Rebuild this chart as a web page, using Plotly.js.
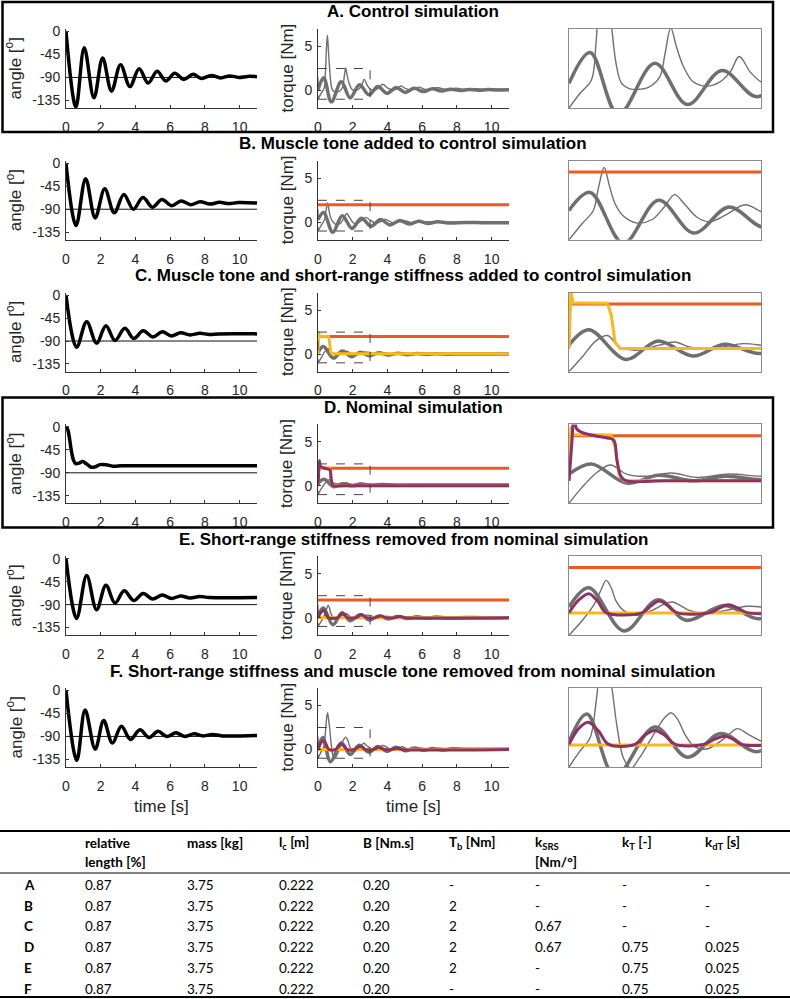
<!DOCTYPE html>
<html><head><meta charset="utf-8">
<script src="https://cdn.plot.ly/plotly-3.0.1.min.js"></script>
<style>html,body{margin:0;padding:0;background:#fff}#chart{width:790px;height:999px}</style>
</head><body><div id="chart"></div>
<script>
// ---------------- DATA ----------------
const rowTitles = [
  "A. Control simulation",
  "B. Muscle tone added to control simulation",
  "C. Muscle tone and short-range stiffness added to control simulation",
  "D. Nominal simulation",
  "E. Short-range stiffness removed from nominal simulation",
  "F. Short-range stiffness and muscle tone removed from nominal simulation"
];
const angleTickVals = [-135, -90, -45, 0];
const angleTickText = ["-135", "-90", "-45", "0"];
const torqueTickVals = [0, 5];
const timeTickVals = [0, 2, 4, 6, 8, 10];
const timeRange = [0, 11];
const angleRange = [-150, 5];
const torqueRange = [-2, 7];
const refAngle = -90;
const zoomTime = [0, 3];
const zoomTorque = [-1, 2.5];

// angle [deg]
const angA_t = [0,0.57,1.05,1.61,2.11,2.62,3.14,3.68,4.21,4.73,5.25,5.75,6.26,6.78,7.32,7.8,8.37,8.9,9.42,9.95,10.47,11];
const angA_v = [0,-148,-32,-130,-52,-117,-65,-108,-73,-101,-78,-97,-82,-94,-84,-92,-86,-91,-87,-90,-88,-88.5];
const angB_t = [0,0.58,1.13,1.68,2.23,2.78,3.33,3.88,4.43,4.98,5.53,6.08,6.63,7.18,7.73,8.28,8.83,9.38,9.93,11];
const angB_v = [0,-122,-30,-107,-50,-97,-61,-90,-67,-86,-71,-83,-74,-81,-75.5,-80,-76.5,-79,-77,-78];
const angC_t = [0,0.61,1.19,1.76,2.3,2.82,3.39,3.9,4.44,5.0,5.55,6.07,6.6,7.15,7.7,8.25,8.8,11];
const angC_v = [0,-102,-52,-94,-60,-89,-65,-85,-70,-82,-72,-80,-74,-78,-75,-77,-76,-76];
const angD_t = [0,0.1,0.2,0.3,0.42,0.56,0.75,0.95,1.2,1.45,1.7,1.95,2.3,2.7,3.2,3.7,4.5,11];
const angD_v = [0,-5,-22,-45,-64,-72,-71,-68,-73,-79,-78,-74,-74,-77,-76,-76,-76,-76];
const angE_t = [0,0.61,1.19,1.76,2.3,2.82,3.35,3.9,4.44,4.98,5.55,6.07,6.6,7.15,7.7,8.25,11];
const angE_v = [0,-117,-33,-100,-52,-87,-63,-82,-68,-79,-71,-78,-73,-77,-74,-76,-76];
const angF_t = [0,0.62,1.1,1.68,2.17,2.67,3.19,3.71,4.26,4.78,5.3,5.8,6.33,6.85,7.38,7.9,8.43,9,11];
const angF_v = [0,-137,-38,-115,-59,-103,-70,-96,-77,-92,-80,-90,-83,-90,-85,-89,-86,-89,-88];

// torque [Nm] : thick gray
const thkA_t = [0,0.33,0.77,1.34,1.85,2.39,2.93,3.45,3.97,4.5,5.02,5.55,6.07,6.6,7.1,7.65,8.2,8.7,9.25,9.8,10.3,11];
const thkA_v = [0.09,1.46,-1.3,0.98,-0.85,0.66,-0.5,0.45,-0.33,0.33,-0.22,0.25,-0.13,0.2,-0.07,0.15,-0.02,0.12,0.02,0.1,0.04,0.07];
const thkB_t = [0,0.33,0.85,1.4,1.95,2.5,3.05,3.6,4.15,4.7,5.25,5.8,6.35,6.9,7.5,8.5,9.5,11];
const thkB_v = [0.3,1.1,-1.15,0.75,-0.7,0.45,-0.45,0.3,-0.3,0.2,-0.2,0.12,-0.13,0.07,-0.08,-0.02,-0.05,-0.05];
const thkC_t = [0,0.31,0.89,1.39,1.94,2.43,2.97,3.5,4.05,4.6,5.15,5.7,6.25,6.8,7.5,8.5,9.5,11];
const thkC_v = [0.17,0.85,-0.46,0.36,-0.31,0.21,-0.2,0.15,-0.12,0.1,-0.08,0.06,-0.05,0.04,-0.02,0.01,0,0];
const thkD_t = [0,0.35,0.9,1.4,1.95,2.45,3.0,3.6,4.5,6,8,11];
const thkD_v = [0.3,0.75,-0.1,0.25,0.0,0.2,0.05,0.15,0.08,0.1,0.1,0.1];
const thkE_t = [0,0.31,0.86,1.39,1.83,2.43,2.95,3.5,4.05,4.6,5.15,5.7,6.25,6.8,7.5,8.5,9.5,11];
const thkE_v = [0.25,1.1,-0.81,0.57,-0.34,0.32,-0.27,0.2,-0.15,0.14,-0.1,0.1,-0.06,0.06,-0.03,0.02,0,0];
const thkF_t = [0,0.28,0.72,1.34,1.85,2.37,2.92,3.45,3.97,4.5,5.03,5.55,6.08,6.6,7.13,7.7,8.5,9.5,11];
const thkF_v = [0.12,1.35,-1.4,0.77,-0.57,0.48,-0.32,0.33,-0.22,0.24,-0.15,0.17,-0.1,0.12,-0.06,0.07,0.02,0.03,0.03];

// torque [Nm] : thin gray
const thnA_t = [0,0.17,0.35,0.42,0.48,0.54,0.6,0.67,0.74,0.82,0.95,1.06,1.24,1.42,1.5,1.59,1.68,1.79,1.94,2.15,2.36,2.52,2.66,2.83,3.0,3.2,3.45,3.72,4.0,4.25,4.5,4.78,5.05,5.3,5.55,5.83,6.1,6.35,6.9,7.4,7.95,8.5,9.0,9.5,10,10.5,11];
const thnA_v = [-1.0,-0.36,0.24,1.8,4.5,6.3,4.6,2.5,0.9,0.1,-0.15,-0.18,-0.09,0.39,1.4,2.55,1.7,0.83,0.16,-0.03,0.16,0.6,1.28,0.6,0.16,0.02,0.2,0.7,0.3,0.05,0.15,0.5,0.2,0.07,0.15,0.38,0.15,0.1,0.3,0.1,0.25,0.12,0.2,0.12,0.17,0.13,0.15];
const thnB_t = [0,0.2,0.38,0.46,0.55,0.63,0.72,0.85,1.05,1.3,1.5,1.65,1.8,2.0,2.2,2.45,2.75,3.0,3.3,3.6,3.85,4.3,4.6,4.9,5.4,6,7,8,9,10,11];
const thnB_v = [-1,-0.3,0.3,1.3,2.2,1.4,0.6,0.05,-0.25,-0.1,0.5,1.0,0.6,0.0,-0.2,0.1,0.55,0.25,-0.1,0.05,0.35,-0.05,0.0,0.2,-0.05,0.05,0.0,0.0,-0.02,-0.02,-0.02];
const thnC_t = [0,0.21,0.42,0.6,0.79,1.0,1.2,1.41,1.65,1.88,2.15,2.41,2.72,3.0,3.3,3.8,4.3,4.9,5.4,6,7,8,9,10,11];
const thnC_v = [-1,-0.34,0.36,0.6,0.09,-0.05,0.02,0.17,0.31,0.09,-0.02,0.09,0.24,0.17,0.03,0.15,0.05,0.12,0.05,0.1,0.07,0.09,0.08,0.08,0.08];
const thnD_t = [0,0.2,0.45,0.65,0.9,1.2,1.6,2.0,2.5,3,4,6,11];
const thnD_v = [-1,-0.3,0.4,0.7,0.3,0.2,0.35,0.15,0.3,0.2,0.2,0.15,0.15];
const thnE_t = [0,0.21,0.4,0.5,0.58,0.66,0.73,0.85,1.05,1.3,1.5,1.62,1.75,1.88,2.15,2.45,2.78,3.0,3.3,3.6,3.9,4.4,4.7,5.0,5.5,6,6.5,7,8,9,10,11];
const thnE_v = [-1,-0.34,0.4,1.0,1.43,1.1,0.54,0.1,-0.12,0.1,0.4,0.47,0.3,0.1,-0.04,0.1,0.28,0.25,0.05,0.0,0.15,0.05,0.0,0.1,0.03,0.06,0.02,0.04,0.03,0.03,0.03,0.03];
const thnF_t = [0,0.17,0.33,0.42,0.48,0.55,0.61,0.67,0.75,0.85,0.97,1.1,1.25,1.4,1.5,1.6,1.7,1.82,1.96,2.15,2.35,2.5,2.63,2.8,3.0,3.25,3.5,3.75,4.0,4.3,4.6,4.85,5.1,5.4,5.7,6,6.5,7,7.5,8,9,10,11];
const thnF_v = [-1,-0.3,0.3,1.8,3.3,4.2,3.4,2.5,0.8,-0.6,-1.05,-0.6,0.1,0.8,1.2,1.4,1.1,0.4,-0.1,-0.2,0.1,0.45,0.7,0.45,0.15,-0.05,0.2,0.45,0.2,0.0,0.15,0.3,0.1,0.02,0.2,0.15,0.05,0.15,0.07,0.1,0.08,0.08,0.08];

// torque [Nm] : muscle tone (orange)
const toneB_t = [0,11], toneB_v = [2,2];
const toneC_t = [0,11], toneC_v = [2,2];
const toneD_t = [0,11], toneD_v = [2,2];
const toneE_t = [0,11], toneE_v = [2,2];

// torque [Nm] : short-range stiffness (yellow)
const srsC_t = [0,0.03,0.06,0.6,0.66,0.72,0.8,11];
const srsC_v = [0.0,2.6,2.05,2.03,1.5,0.3,0.02,0.02];
const srsD_t = [0,0.03,0.06,0.66,0.72,0.78,0.86,11];
const srsD_v = [0.0,2.4,2.05,2.03,1.5,0.3,0.0,0.0];
const srsE_t = [0,11], srsE_v = [-0.02,-0.02];
const srsF_t = [0,11], srsF_v = [-0.02,-0.02];

// torque [Nm] : reflex (purple)
const rflD_t = [0,0.04,0.08,0.12,0.2,0.4,0.6,0.7,0.75,0.82,0.9,1.5,11];
const rflD_v = [0,1.5,2.9,2.3,2.15,2.0,1.9,1.8,0.9,0.15,0.0,0.0,0.0];
const rflE_t = [0,0.15,0.31,0.45,0.58,1.15,1.28,1.41,1.55,1.68,2.2,2.35,2.49,2.64,2.78,3.3,3.45,3.6,3.75,3.9,4.4,4.55,4.7,4.85,5.0,11];
const rflE_v = [0,0.55,0.84,0.5,0,0,0.3,0.51,0.3,0,0,0.2,0.35,0.2,0,0,0.12,0.22,0.12,0,0,0.07,0.14,0.07,0,0];
const rflF_t = [0,0.15,0.3,0.46,0.62,1.03,1.18,1.34,1.5,1.66,2.1,2.27,2.43,2.57,2.7,3.2,3.35,3.5,3.65,3.8,4.25,4.4,4.55,4.7,4.85,11];
const rflF_v = [0,0.7,0.98,0.6,0,0,0.4,0.62,0.4,0,0,0.22,0.36,0.22,0,0,0.13,0.24,0.13,0,0,0.08,0.15,0.08,0,0];

// table
const tableHeader1 = ["", "relative", "mass [kg]", "l<sub>c</sub> [m]", "B [Nm.s]", "T<sub>b</sub> [Nm]", "k<sub>SRS</sub>", "k<sub>T</sub> [-]", "k<sub>dT</sub> [s]"];
const tableHeader2 = ["", "length [%]", "", "", "", "", "[Nm/°]", "", ""];
const tableRowLabels = ["A", "B", "C", "D", "E", "F"];
const colRelLength = ["0.87","0.87","0.87","0.87","0.87","0.87"];
const colMass = ["3.75","3.75","3.75","3.75","3.75","3.75"];
const colLc = ["0.222","0.222","0.222","0.222","0.222","0.222"];
const colB = ["0.20","0.20","0.20","0.20","0.20","0.20"];
const colTb = ["-","2","2","2","2","-"];
const colKsrs = ["-","-","0.67","0.67","-","-"];
const colKt = ["-","-","-","0.75","0.75","0.75"];
const colKdt = ["-","-","-","0.025","0.025","0.025"];

// ---------------- BUILD ----------------
const W = 790, H = 999;
const px = v => v / W, py = v => 1 - v / H;
const GRAY = '#6f6f6f', ORANGE = '#ee5a1e', YELLOW = '#f8b81e', PURPLE = '#8c3268';
const AXC = '#333333', TXT = '#262626';
const FONT = 'Liberation Sans, Arial, sans-serif';

const rows = [
  {ang:[angA_t,angA_v], thk:[thkA_t,thkA_v], thn:[thnA_t,thnA_v]},
  {ang:[angB_t,angB_v], thk:[thkB_t,thkB_v], thn:[thnB_t,thnB_v], tone:[toneB_t,toneB_v]},
  {ang:[angC_t,angC_v], thk:[thkC_t,thkC_v], thn:[thnC_t,thnC_v], tone:[toneC_t,toneC_v], srs:[srsC_t,srsC_v]},
  {ang:[angD_t,angD_v], thk:[thkD_t,thkD_v], thn:[thnD_t,thnD_v], tone:[toneD_t,toneD_v], srs:[srsD_t,srsD_v], rfl:[rflD_t,rflD_v]},
  {ang:[angE_t,angE_v], thk:[thkE_t,thkE_v], thn:[thnE_t,thnE_v], tone:[toneE_t,toneE_v], srs:[srsE_t,srsE_v], rfl:[rflE_t,rflE_v]},
  {ang:[angF_t,angF_v], thk:[thkF_t,thkF_v], thn:[thnF_t,thnF_v], srs:[srsF_t,srsF_v], rfl:[rflF_t,rflF_v]}
];

const colsPx = [[66,257],[318,509],[569,761]];
const rowTop0 = 29, rowStep = 131.8, rowH = 79;
const titleCx = 413;

const data = [], shapes = [], annotations = [];
const layout = {
  width: W, height: H, margin:{l:0,r:0,t:0,b:0}, paper_bgcolor:'#fff', plot_bgcolor:'rgba(0,0,0,0)',
  showlegend:false, font:{family:FONT, color:TXT, size:14}
};

function line(n, xy, color, width, shape) {
  data.push({type:'scatter', mode:'lines', x:xy[0], y:xy[1], xaxis:'x'+n, yaxis:'y'+n,
    line:{color:color, width:width, shape:shape||'spline', smoothing:1}, hoverinfo:'skip'});
}

rows.forEach((r, i) => {
  const top = rowTop0 + rowStep*i, bot = top + rowH;
  for (let c = 0; c < 3; c++) {
    const n = i*3 + c + 1;
    const xd = [px(colsPx[c][0]), px(colsPx[c][1])];
    const yd = [py(bot), py(top)];
    if (c < 2) {
      layout['xaxis'+n] = {domain:xd, anchor:'y'+n, range:timeRange, tickvals:timeTickVals,
        showline:true, linecolor:AXC, linewidth:1, ticks:'inside', ticklen:3, tickcolor:AXC,
        showgrid:false, zeroline:false, tickfont:{size:14, color:TXT}, ticklabelstandoff:6, fixedrange:true};
      if (c === 0) {
        layout['yaxis'+n] = {domain:yd, anchor:'x'+n, range:angleRange, tickvals:angleTickVals, ticktext:angleTickText,
          showline:true, linecolor:AXC, linewidth:1, ticks:'inside', ticklen:3, tickcolor:AXC,
          showgrid:false, zeroline:false, tickfont:{size:14, color:TXT}, ticklabelstandoff:2, fixedrange:true};
      } else {
        layout['yaxis'+n] = {domain:yd, anchor:'x'+n, range:torqueRange, tickvals:torqueTickVals,
          showline:true, linecolor:AXC, linewidth:1, ticks:'inside', ticklen:3, tickcolor:AXC,
          showgrid:false, zeroline:false, tickfont:{size:14, color:TXT}, ticklabelstandoff:2, fixedrange:true};
      }
    } else {
      layout['xaxis'+n] = {domain:xd, anchor:'y'+n, range:zoomTime, showline:true, mirror:true,
        linecolor:'#8a8a8a', linewidth:1, ticks:'', showticklabels:false, showgrid:false, zeroline:false, fixedrange:true};
      layout['yaxis'+n] = {domain:yd, anchor:'x'+n, range:zoomTorque, showline:true, mirror:true,
        linecolor:'#8a8a8a', linewidth:1, ticks:'', showticklabels:false, showgrid:false, zeroline:false, fixedrange:true};
    }
  }
  const na = i*3+1, nt = i*3+2, nz = i*3+3;
  line(na, [timeRange, [refAngle, refAngle]], '#111', 1, 'linear');
  line(na, r.ang, '#000', 3.5);
  [nt, nz].forEach(n => {
    line(n, r.thk, GRAY, 3.5);
    line(n, r.thn, GRAY, 1.4);
    if (r.tone) line(n, r.tone, ORANGE, 3, 'linear');
    if (r.srs) line(n, r.srs, YELLOW, 3, 'linear');
    if (r.rfl) line(n, r.rfl, PURPLE, 3);
  });
  shapes.push({type:'rect', xref:'x'+nt, yref:'y'+nt, x0:zoomTime[0], x1:zoomTime[1], y0:zoomTorque[0], y1:zoomTorque[1],
    line:{color:'#444', width:1, dash:'dash'}, fillcolor:'rgba(0,0,0,0)', layer:'above'});
  annotations.push({xref:'paper', yref:'paper', x:px(titleCx), y:py(top-17), text:'<b>'+rowTitles[i]+'</b>',
    showarrow:false, xanchor:'center', yanchor:'middle', font:{size:17, color:'#000', family:FONT}});
  annotations.push({xref:'paper', yref:'paper', x:px(14), y:py((top+bot)/2), text:'angle [<sup>o</sup>]', textangle:-90,
    showarrow:false, xanchor:'center', yanchor:'middle', font:{size:17, color:TXT, family:FONT}});
  annotations.push({xref:'paper', yref:'paper', x:px(287), y:py((top+bot)/2), text:'torque [Nm]', textangle:-90,
    showarrow:false, xanchor:'center', yanchor:'middle', font:{size:17, color:TXT, family:FONT}});
});

[0, 3].forEach(i => {
  const top = rowTop0 + rowStep*i, bot = top + rowH;
  shapes.push({type:'rect', xref:'paper', yref:'paper', x0:px(2.5), x1:px(773), y0:py(bot+24), y1:py(top-27),
    line:{color:'#000', width:2.5}, fillcolor:'rgba(0,0,0,0)'});
});

[161, 413].forEach(cx => annotations.push({xref:'paper', yref:'paper', x:px(cx), y:py(806), text:'time [s]',
  showarrow:false, xanchor:'center', yanchor:'middle', font:{size:17, color:TXT, family:FONT}}));

const TF = 'Lato, Noto Sans, sans-serif';
const colX = [22, 83, 185, 277, 361, 447, 533, 620, 703];
const tRuleTop = 831, tRuleHead = 873, tRuleBot = 997, tHead1 = 843, tHead2 = 862, tRow0 = 885, tRowStep = 20.7;
shapes.push({type:'line', xref:'paper', yref:'paper', x0:0, x1:1, y0:py(tRuleTop), y1:py(tRuleTop), line:{color:'#000', width:2}});
shapes.push({type:'line', xref:'paper', yref:'paper', x0:0, x1:1, y0:py(tRuleHead), y1:py(tRuleHead), line:{color:'#000', width:1}});
shapes.push({type:'line', xref:'paper', yref:'paper', x0:0, x1:1, y0:py(tRuleBot), y1:py(tRuleBot), line:{color:'#000', width:2}});
tableHeader1.forEach((h, k) => { if (h) annotations.push({xref:'paper', yref:'paper', x:px(colX[k]), y:py(tHead1), text:'<b>'+h+'</b>',
  showarrow:false, xanchor:'left', yanchor:'middle', font:{size:13.5, color:'#000', family:TF}}); });
tableHeader2.forEach((h, k) => { if (h) annotations.push({xref:'paper', yref:'paper', x:px(colX[k]), y:py(tHead2), text:'<b>'+h+'</b>',
  showarrow:false, xanchor:'left', yanchor:'middle', font:{size:13.5, color:'#000', family:TF}}); });
const tableCols = [colRelLength, colMass, colLc, colB, colTb, colKsrs, colKt, colKdt];
tableRowLabels.forEach((lab, j) => {
  const yy = py(tRow0 + tRowStep*j);
  annotations.push({xref:'paper', yref:'paper', x:px(colX[0]), y:yy, text:'<b>'+lab+'</b>', showarrow:false,
    xanchor:'left', yanchor:'middle', font:{size:13.5, color:'#000', family:TF}});
  tableCols.forEach((col, k) => annotations.push({xref:'paper', yref:'paper', x:px(colX[k+1]), y:yy, text:col[j],
    showarrow:false, xanchor:'left', yanchor:'middle', font:{size:13.5, color:'#000', family:TF}}));
});

layout.shapes = shapes;
layout.annotations = annotations;
Plotly.newPlot('chart', data, layout, {staticPlot:true, displayModeBar:false});
</script></body></html>
